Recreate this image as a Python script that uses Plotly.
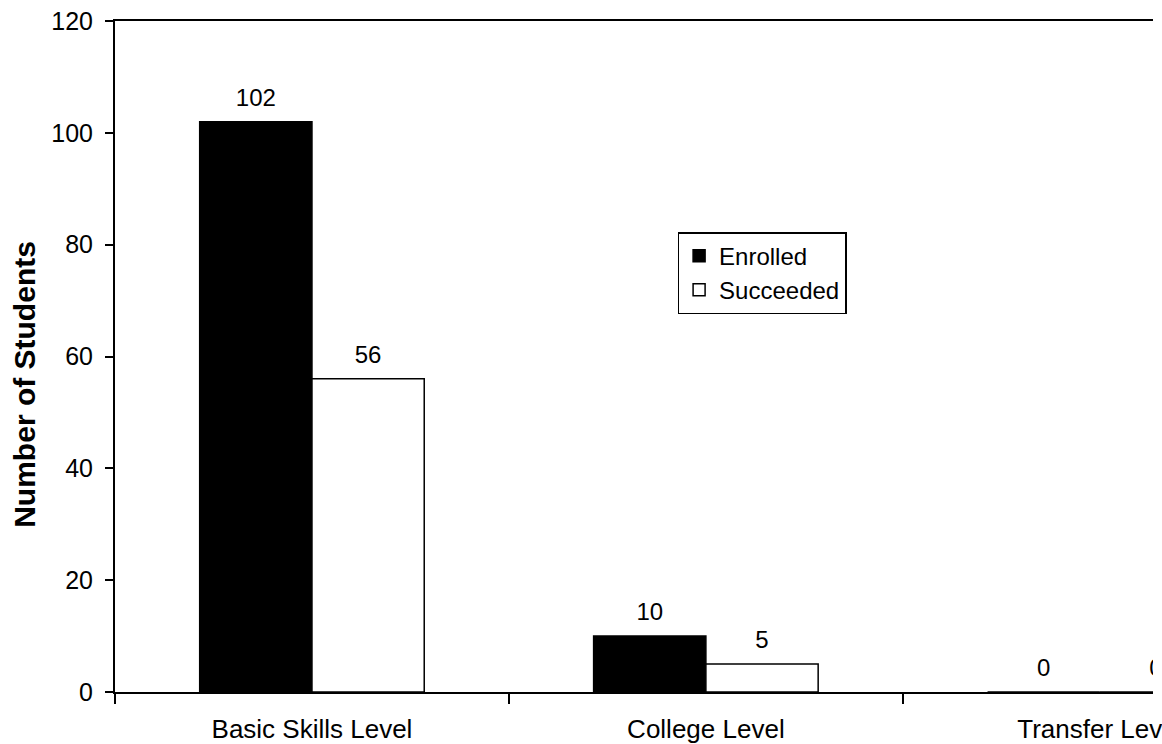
import plotly.graph_objects as go

# Student counts by course level
categories = ["Basic Skills Level", "College Level", "Transfer Level"]
enrolled = [102, 10, 0]
succeeded = [56, 5, 0]
y_ticks = [0, 20, 40, 60, 80, 100, 120]

FONT = "Liberation Sans, Arial, sans-serif"
GAP = 0.43

fig = go.Figure()

fig.add_trace(go.Bar(
    name="Enrolled", x=categories, y=enrolled,
    marker=dict(color="black", line=dict(color="black", width=1.5)),
))
fig.add_trace(go.Bar(
    name="Succeeded", x=categories, y=succeeded,
    marker=dict(color="white", line=dict(color="black", width=1.5)),
))

# value labels above each bar, grouped the same way as the bars
for vals in (enrolled, succeeded):
    fig.add_trace(go.Scatter(
        x=categories, y=vals, mode="markers+text",
        text=[str(v) for v in vals], textposition="top center",
        textfont=dict(family=FONT, size=24, color="black"),
        marker=dict(size=14, opacity=0),
        showlegend=False, hoverinfo="skip", cliponaxis=True,
    ))

fig.update_layout(
    width=1162, height=744,
    margin=dict(l=115, r=9, t=21, b=52, autoexpand=False),
    paper_bgcolor="white", plot_bgcolor="white",
    barmode="group", bargap=GAP, bargroupgap=0,
    scattermode="group", scattergap=GAP,
    font=dict(family=FONT, size=24, color="black"),
    legend=dict(
        x=0.542, y=0.6855, xanchor="left", yanchor="top",
        bordercolor="black", borderwidth=1.5, bgcolor="white",
        font=dict(family=FONT, size=24, color="black"),
        itemwidth=30, tracegroupgap=0,
    ),
    xaxis=dict(
        type="category", categoryorder="array", categoryarray=categories,
        range=[-0.5, 2.135], tickson="boundaries",
        ticks="outside", ticklen=10, tickwidth=2, tickcolor="black",
        showline=True, linewidth=2, linecolor="black", mirror=True,
        showgrid=False, zeroline=False, automargin=False,
        tickfont=dict(family=FONT, size=26), ticklabelstandoff=13,
    ),
    yaxis=dict(
        range=[0, 120], tickvals=y_ticks,
        ticks="outside", ticklen=8, tickwidth=2, tickcolor="black",
        showline=True, linewidth=2, linecolor="black",
        showgrid=False, zeroline=False, automargin=False,
        tickfont=dict(family=FONT, size=25), ticklabelstandoff=7,
    ),
    yaxis2=dict(
        overlaying="y", side="left", range=[0, 120], tickvals=y_ticks,
        ticks="inside", ticklen=7, tickwidth=2, tickcolor="black",
        showticklabels=False, showline=False, showgrid=False,
        zeroline=False, automargin=False,
    ),
    annotations=[dict(
        text="<b>Number of Students</b>", textangle=-90,
        xref="paper", yref="paper", x=-0.0866, y=0.458,
        xanchor="center", yanchor="middle", showarrow=False,
        font=dict(family=FONT, size=30, color="black"),
    )],
)

fig.write_html("out.html")
